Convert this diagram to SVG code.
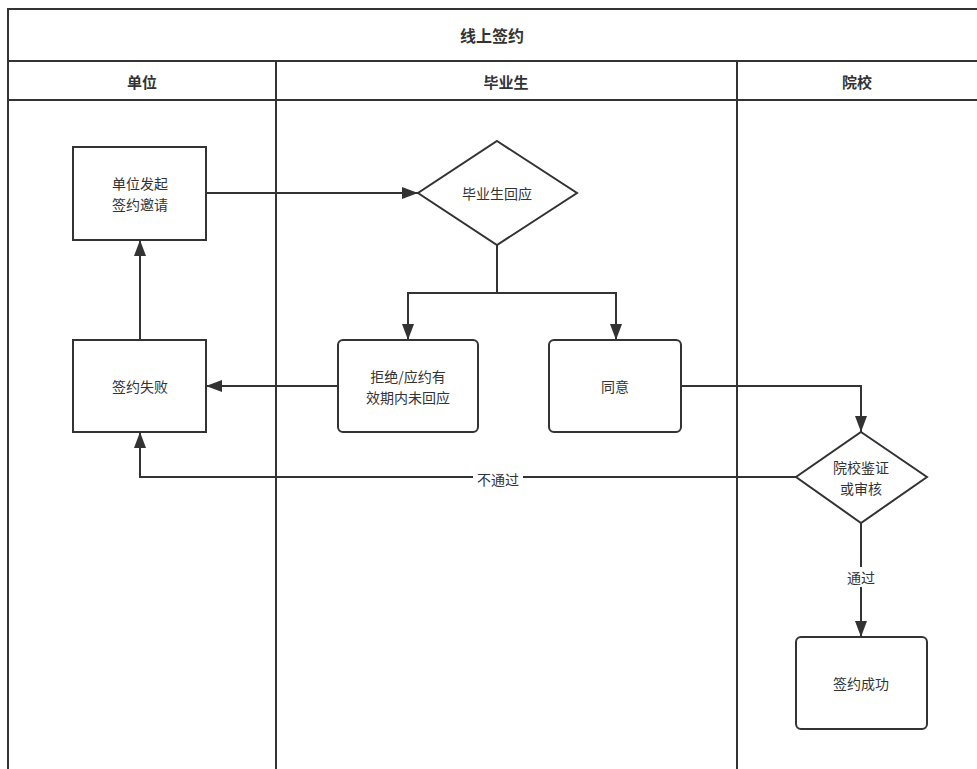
<svg xmlns="http://www.w3.org/2000/svg" width="977" height="769" viewBox="0 0 977 769">
<defs>
<style>
.ln{stroke:#333;stroke-width:2;fill:none}
.box{stroke:#333;stroke-width:2;fill:#fff}
.t{font-family:"Noto Sans CJK SC","Liberation Sans",sans-serif;font-size:14px;fill:#333;text-anchor:middle;dominant-baseline:central}
.h{font-family:"Noto Sans CJK SC","Liberation Sans",sans-serif;font-size:15px;font-weight:bold;fill:#333;text-anchor:middle;dominant-baseline:central}
.lbl{font-family:"Noto Sans CJK SC","Liberation Sans",sans-serif;font-size:14px;fill:#333;text-anchor:middle;dominant-baseline:central}
</style>
<marker id="ar" viewBox="0 0 16 12" refX="16" refY="6" markerWidth="16" markerHeight="12" markerUnits="userSpaceOnUse" orient="auto">
<path d="M0,0 L16,6 L0,12 z" fill="#333"/>
</marker>
</defs>
<rect width="977" height="769" fill="#fff"/>
<g id="lanes">
<path class="ln" d="M8,769 V9 H985"/>
<path class="ln" d="M8,61 H985 M8,100 H985"/>
<path class="ln" d="M276,61 V769 M737,61 V769"/>
<text class="h" x="492" y="35" style="font-size:16px">线上签约</text>
<text class="h" x="142" y="81">单位</text>
<text class="h" x="506" y="81">毕业生</text>
<text class="h" x="857" y="81">院校</text>
</g>
<g id="connectors">
<path class="ln" d="M206,193 H418" marker-end="url(#ar)"/>
<path class="ln" d="M497,245 V293 H408 V340" marker-end="url(#ar)"/>
<path class="ln" d="M497,293 H616 V340" marker-end="url(#ar)"/>
<path class="ln" d="M338,386 H206" marker-end="url(#ar)"/>
<path class="ln" d="M140,340 V240" marker-end="url(#ar)"/>
<path class="ln" d="M681,386 H861 V432" marker-end="url(#ar)"/>
<path class="ln" d="M796,477 H140 V432" marker-end="url(#ar)"/>
<path class="ln" d="M861,523 V637" marker-end="url(#ar)"/>
<rect x="473" y="470" width="50" height="18" fill="#fff"/>
<text class="lbl" x="498" y="479">不通过</text>
<rect x="845" y="567" width="32" height="20" fill="#fff"/>
<text class="lbl" x="861" y="577">通过</text>
</g>
<g id="n1">
<rect class="box" x="73" y="147" width="133" height="93"/>
<text class="t" x="140" y="183">单位发起</text>
<text class="t" x="140" y="204">签约邀请</text>
</g>
<g id="n2">
<rect class="box" x="73" y="340" width="133" height="92"/>
<text class="t" x="140" y="386">签约失败</text>
</g>
<g id="n3">
<polygon class="box" points="497,141 577,193 497,245 418,193"/>
<text class="t" x="497" y="193">毕业生回应</text>
</g>
<g id="n4">
<rect class="box" x="338" y="340" width="140" height="92" rx="5"/>
<text class="t" x="408" y="376">拒绝/应约有</text>
<text class="t" x="408" y="397">效期内未回应</text>
</g>
<g id="n5">
<rect class="box" x="549" y="340" width="132" height="92" rx="5"/>
<text class="t" x="615" y="386">同意</text>
</g>
<g id="n6">
<polygon class="box" points="861,432 927,477 861,523 796,477"/>
<text class="t" x="861" y="467">院校鉴证</text>
<text class="t" x="861" y="488">或审核</text>
</g>
<g id="n7">
<rect class="box" x="796" y="637" width="131" height="92" rx="5"/>
<text class="t" x="861" y="683">签约成功</text>
</g>
</svg>
